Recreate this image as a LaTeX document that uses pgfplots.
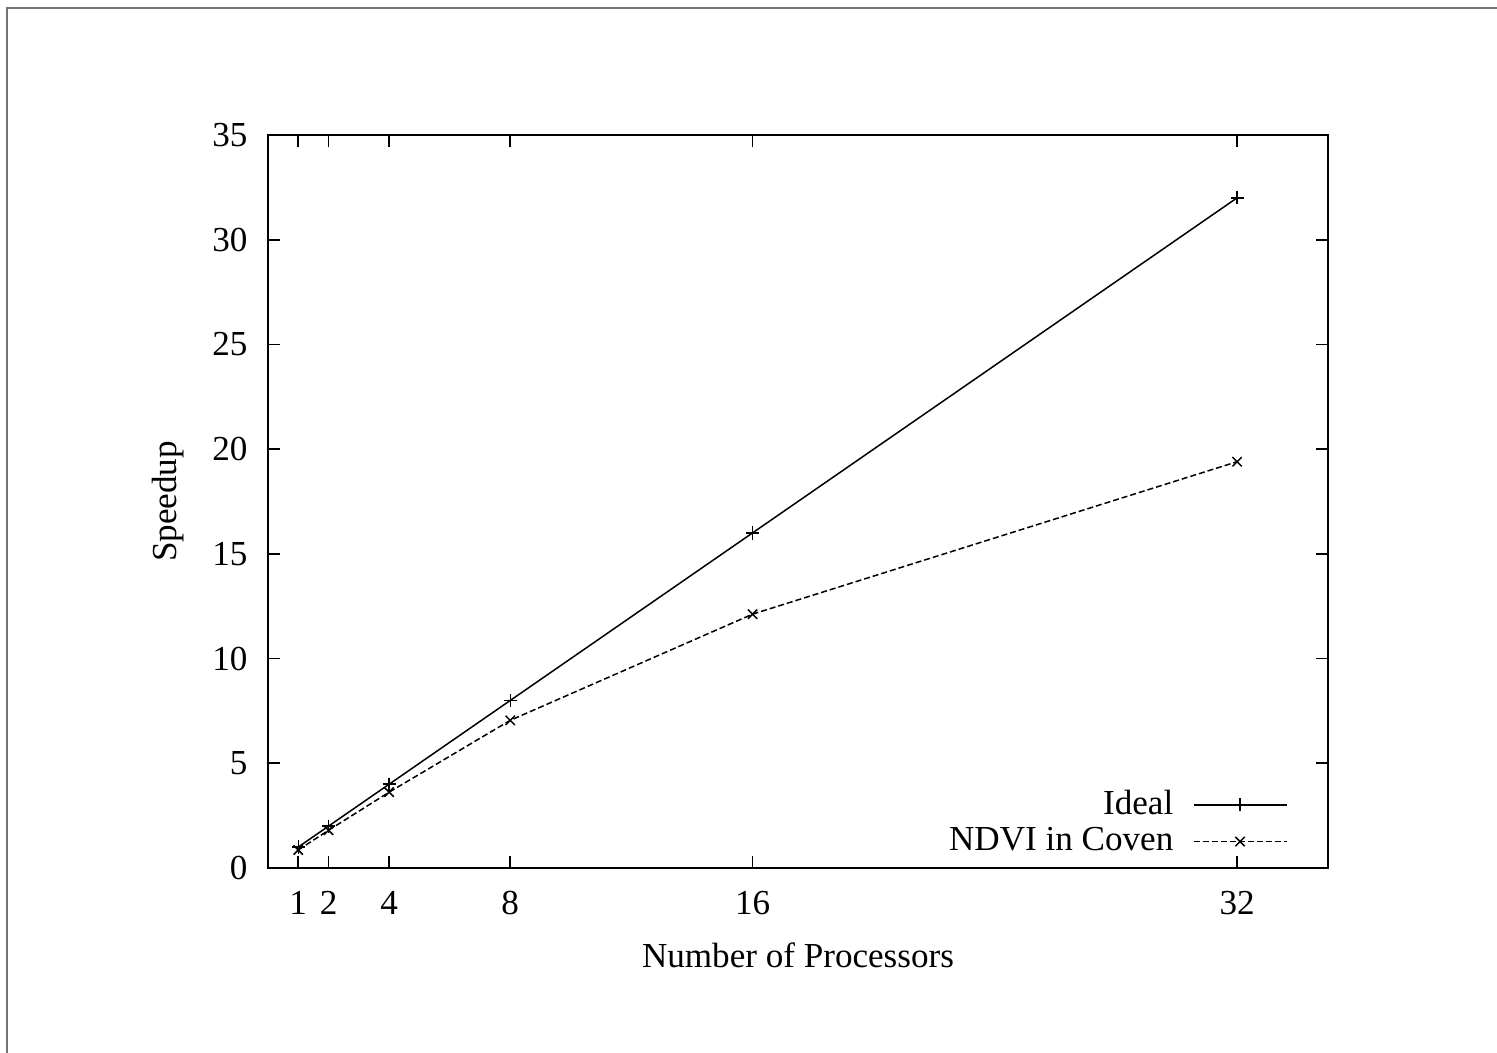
\documentclass[border=0pt]{standalone}
\usepackage{fontspec}
\setmainfont{Liberation Serif}
\usepackage{pgfplots}
\pgfplotsset{compat=1.18}
\begin{document}
\begin{tikzpicture}
\path[use as bounding box] (0,0) rectangle (499pt,351pt);
\draw[color=black!55, line width=0.67pt] (2.33pt,0) -- (2.33pt,348.33pt) -- (499pt,348.33pt);
\begin{axis}[
  at={(89.33pt,61.67pt)}, anchor=south west,
  scale only axis, width=353.33pt, height=244.33pt,
  xmin=0, xmax=35, ymin=0, ymax=35,
  xtick={1,2,4,8,16,32},
  ytick={0,5,10,15,20,25,30,35},
  tick align=inside, major tick length=4pt,
  axis line style={line width=0.6pt},
  every tick/.style={black, line width=0.6pt},
  font=\fontsize{11.7}{13}\selectfont,
  /pgf/number format/assume math mode=true,
  xticklabel style={anchor=base, inner sep=0pt, yshift=-15.67pt},
  yticklabel style={anchor=east, inner sep=0pt, xshift=-6.67pt},
  xlabel={Number of Processors},
  ylabel={Speedup},
  xlabel style={at={(axis description cs:0.5,-0.1364)}, anchor=base},
  ylabel style={at={(axis description cs:-0.0943,0.5)}, anchor=center},
  legend plot pos=right,
  legend cell align=right,
  legend image code/.code={\draw[mark repeat=2,mark phase=2,#1] plot coordinates {(0pt,0pt) (15.5pt,0pt) (31pt,0pt)};},
  legend style={draw=none, fill=none, at={(0.9707,0.0)}, anchor=south east,
    font=\fontsize{11.7}{13}\selectfont, row sep=-1.2pt,
    nodes={inner sep=2pt},
    /tikz/every odd column/.append style={column sep=4.5pt}},
]
\addplot[black, line width=0.5pt, mark=+, mark size=2.2pt] coordinates {
 (1,1) (2,2) (4,4) (8,8) (16,16) (32,32)};
\addlegendentry{Ideal}
\addplot[black, line width=0.5pt, dash pattern=on 2pt off 1pt, mark=x, mark size=2.2pt, mark options={solid}] coordinates {
 (1,0.86) (2,1.8) (4,3.62) (8,7.05) (16,12.12) (32,19.4)};
\addlegendentry{NDVI in Coven}
\end{axis}
\end{tikzpicture}
\end{document}
